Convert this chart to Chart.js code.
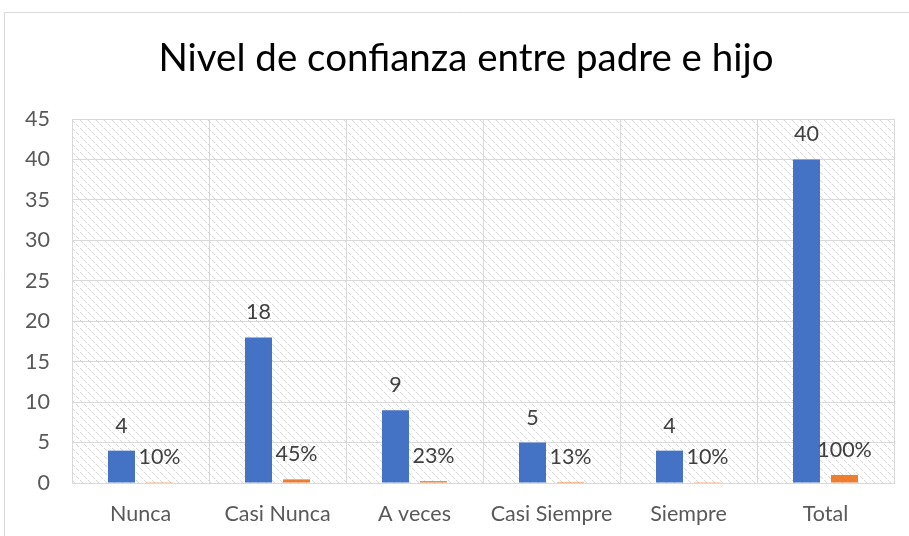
<!DOCTYPE html>
<html><head><meta charset="utf-8">
<script src="https://cdn.jsdelivr.net/npm/chart.js@4/dist/chart.umd.min.js"></script>
<style>html,body{margin:0;padding:0;background:#fff}#wrap{width:909px;height:536px;position:relative}</style>
</head><body><div id="wrap"><canvas id="c" width="909" height="536"></canvas></div>
<script>
const categories = ["Nunca", "Casi Nunca", "A veces", "Casi Siempre", "Siempre", "Total"];
const frecuencia = [4, 18, 9, 5, 4, 40];
const porcentaje = [0.10, 0.45, 0.23, 0.13, 0.10, 1.00];
const porcentajeLabels = ["10%", "45%", "23%", "13%", "10%", "100%"];
const yTicks = [0, 5, 10, 15, 20, 25, 30, 35, 40, 45];
const chartTitle = "Nivel de confianza entre padre e hijo";

const FONT = "Lato, 'Open Sans', sans-serif";

function makePattern(ctx){
  const t = document.createElement('canvas');
  t.width = 8; t.height = 8;
  const g = t.getContext('2d');
  g.fillStyle = '#ffffff'; g.fillRect(0,0,8,8);
  g.fillStyle = '#d6d6d6';
  for (let i = 0; i < 8; i++) {
    if (i % 4 !== 3) g.fillRect(i, i, 1, 1);
  }
  return ctx.createPattern(t, 'repeat');
}

const bgPlugin = {
  id: 'bg',
  beforeDraw(chart){
    const ctx = chart.ctx, a = chart.chartArea;
    ctx.save();
    ctx.fillStyle = makePattern(ctx);
    ctx.fillRect(a.left, a.top, a.right - a.left, a.bottom - a.top);
    ctx.strokeStyle = '#d9d9d9'; ctx.lineWidth = 1;
    ctx.beginPath();
    ctx.moveTo(4.5, chart.height); ctx.lineTo(4.5, 12.5); ctx.lineTo(chart.width, 12.5);
    ctx.stroke();
    ctx.font = "38.5px " + FONT;
    ctx.fillStyle = '#000000';
    ctx.textAlign = 'center';
    ctx.textBaseline = 'middle';
    ctx.fillText(chartTitle, 466, 59);
    ctx.restore();
  }
};

const labelPlugin = {
  id: 'lbl',
  afterDatasetsDraw(chart){
    const ctx = chart.ctx;
    ctx.save();
    ctx.font = "21.5px " + FONT;
    ctx.fillStyle = '#404040';
    ctx.textAlign = 'center';
    ctx.textBaseline = 'alphabetic';
    chart.getDatasetMeta(0).data.forEach((el, i) => {
      ctx.fillText(String(frecuencia[i]), el.x, el.y - 18);
    });
    chart.getDatasetMeta(1).data.forEach((el, i) => {
      ctx.fillText(porcentajeLabels[i], el.x, el.y - 18);
    });
    ctx.restore();
  }
};

new Chart(document.getElementById('c'), {
  type: 'bar',
  data: {
    labels: categories,
    datasets: [
      { label: 'Frecuencia', data: frecuencia, backgroundColor: '#4472C4', barPercentage: 0.71, categoryPercentage: 0.555 },
      { label: 'Porcentaje', data: porcentaje, backgroundColor: '#ED7D31', barPercentage: 0.71, categoryPercentage: 0.555 }
    ]
  },
  options: {
    responsive: false,
    animation: false,
    devicePixelRatio: 1,
    layout: { padding: { left: 4, right: 15, top: 119, bottom: 0 } },
    plugins: {
      legend: { display: false },
      tooltip: { enabled: false },
      title: { display: false }
    },
    scales: {
      x: {
        grid: { color: '#d9d9d9', lineWidth: 1, drawTicks: false, offset: true },
        border: { color: '#d9d9d9' },
        ticks: { color: '#595959', font: { family: FONT, size: 21.5 }, padding: 18 },
        afterFit(s){ s.height = 53; }
      },
      y: {
        min: 0, max: 45,
        afterBuildTicks(s){ s.ticks = yTicks.map(v => ({ value: v })); },
        grid: { color: '#d9d9d9', lineWidth: 1, drawTicks: false },
        border: { display: false },
        ticks: { color: '#595959', font: { family: FONT, size: 21.5 }, padding: 22 },
        afterFit(s){ s.width = 68; }
      }
    }
  },
  plugins: [bgPlugin, labelPlugin]
});
</script>
</body></html>
